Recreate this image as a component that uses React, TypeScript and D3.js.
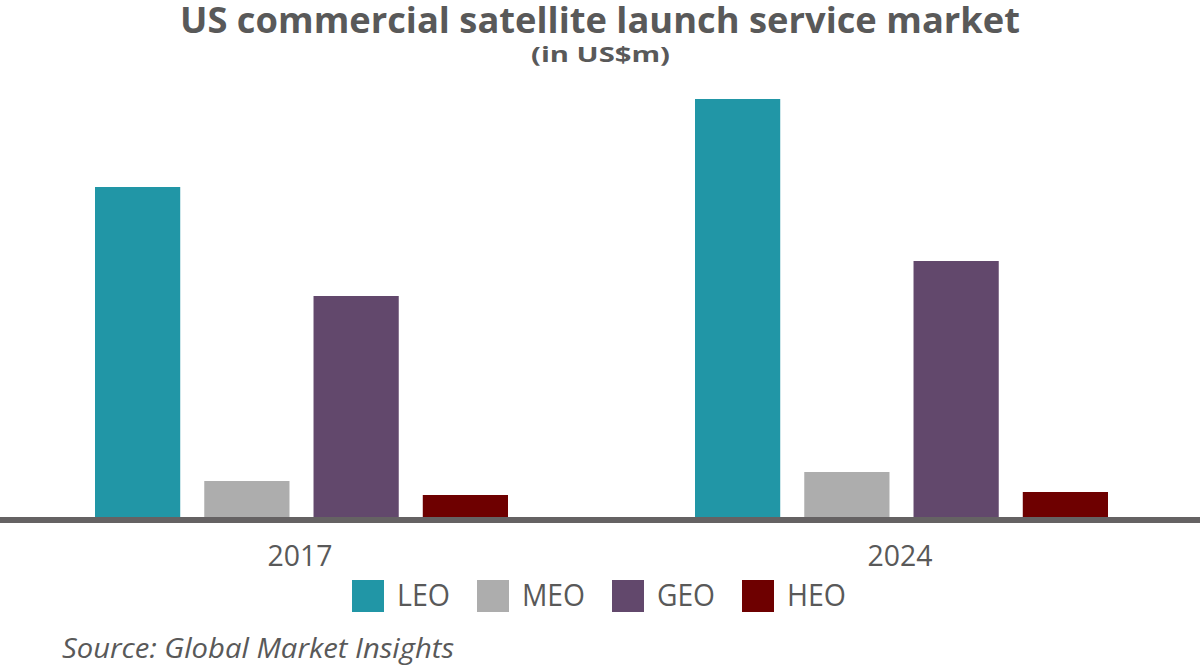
import React, { useEffect, useRef } from 'react';
import * as d3 from 'd3';

// no value axis in the source, so these are relative heights
const years = ['2017', '2024'];
const orbits = ['LEO', 'MEO', 'GEO', 'HEO'];
const leo = [330, 418];
const meo = [36, 45];
const geo = [221, 256];
const heo = [22, 25];
const colors = ['#2196a6', '#adadad', '#62486c', '#6e0000'];

const W = 1200;
const H = 670;
const baseY = 517;

export default function App() {
  const svgRef = useRef<SVGSVGElement>(null);

  useEffect(() => {
    if (!svgRef.current) return;
    const svg = d3.select(svgRef.current);
    svg.selectAll('*').remove();

    const series = [leo, meo, geo, heo];
    const rows = years.map((year, i) => ({
      year,
      values: orbits.map((o, j) => ({ orbit: o, value: series[j][i] })),
    }));

    const x0 = d3.scaleBand<string>().domain(years).range([0, W]);
    const x1 = d3.scaleBand<string>()
      .domain(orbits)
      .range([95, 508])
      .paddingInner(0.22);
    const y = d3.scaleLinear().domain([0, 418]).range([baseY, 99]);
    const color = d3.scaleOrdinal<string, string>().domain(orbits).range(colors);

    const font = "'Open Sans', 'Noto Sans', sans-serif";
    const textColor = '#595959';

    // title
    svg.append('text')
      .attr('x', W / 2)
      .attr('y', 33)
      .attr('text-anchor', 'middle')
      .attr('font-family', font)
      .attr('font-weight', 700)
      .attr('font-size', 36)
      .attr('fill', textColor)
      .attr('textLength', 840)
      .attr('lengthAdjust', 'spacingAndGlyphs')
      .text('US commercial satellite launch service market');

    svg.append('text')
      .attr('x', 600.5)
      .attr('y', 62)
      .attr('text-anchor', 'middle')
      .attr('font-family', font)
      .attr('font-weight', 700)
      .attr('font-size', 22)
      .attr('fill', textColor)
      .attr('textLength', 139)
      .attr('lengthAdjust', 'spacingAndGlyphs')
      .text('(in US$m)');

    // bars
    const groups = svg.append('g')
      .selectAll('g')
      .data(rows)
      .join('g')
      .attr('transform', d => `translate(${x0(d.year)},0)`);

    groups.selectAll('rect')
      .data(d => d.values)
      .join('rect')
      .attr('x', d => x1(d.orbit)!)
      .attr('width', x1.bandwidth())
      .attr('y', d => y(d.value))
      .attr('height', d => y(0) - y(d.value))
      .attr('fill', d => color(d.orbit));

    // baseline
    svg.append('rect')
      .attr('x', 0)
      .attr('y', baseY)
      .attr('width', W)
      .attr('height', 6)
      .attr('fill', '#656263');

    // year labels
    svg.append('g')
      .selectAll('text')
      .data(years)
      .join('text')
      .attr('x', d => x0(d)! + x0.bandwidth() / 2)
      .attr('y', 566)
      .attr('text-anchor', 'middle')
      .attr('font-family', font)
      .attr('font-size', 30)
      .attr('fill', textColor)
      .attr('textLength', 65)
      .attr('lengthAdjust', 'spacingAndGlyphs')
      .text(d => d);

    // legend, label widths squeezed to match the condensed look of the original
    const labelW = [53, 63, 58, 59];
    const legend = svg.append('g');
    let lx = 352;
    orbits.forEach((o, i) => {
      legend.append('rect')
        .attr('x', lx)
        .attr('y', 580)
        .attr('width', 32)
        .attr('height', 32)
        .attr('fill', colors[i]);
      legend.append('text')
        .attr('x', lx + 45)
        .attr('y', 606)
        .attr('font-family', font)
        .attr('font-size', 31)
        .attr('fill', textColor)
        .attr('textLength', labelW[i])
        .attr('lengthAdjust', 'spacingAndGlyphs')
        .text(o);
      lx += 45 + labelW[i] + 27;
    });

    svg.append('text')
      .attr('x', 62)
      .attr('y', 658)
      .attr('font-family', font)
      .attr('font-style', 'italic')
      .attr('font-size', 27)
      .attr('fill', textColor)
      .attr('textLength', 392)
      .attr('lengthAdjust', 'spacingAndGlyphs')
      .text('Source: Global Market Insights');
  }, []);

  return (
    <div style={{ position: 'absolute', left: 0, top: 0, background: '#fff' }}>
      <svg ref={svgRef} width={W} height={H} style={{ display: 'block' }} />
    </div>
  );
}
